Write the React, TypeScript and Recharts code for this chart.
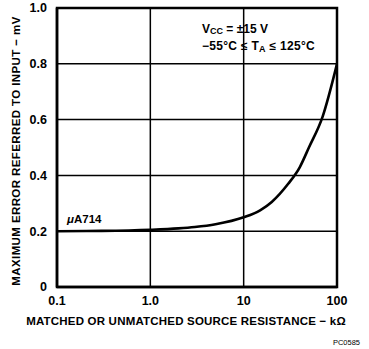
import { LineChart, Line, XAxis, YAxis, CartesianGrid } from 'recharts';

const resistance = [0.1, 0.3, 1, 2, 3, 5, 10, 15, 20, 30, 40, 50, 70, 100];
const maxError = [0.2, 0.201, 0.205, 0.21, 0.215, 0.225, 0.25, 0.275, 0.305, 0.37, 0.43, 0.5, 0.61, 0.8];
const xTicks = [0.1, 1, 10, 100];
const yTicks = [0, 0.2, 0.4, 0.6, 0.8, 1.0];

const data = resistance.map((r, i) => ({ r, v: maxError[i] }));

const font = 'Arial, "Liberation Sans", Helvetica, sans-serif';

const fmtX = (v: number) => (v === 1 ? '1.0' : String(v));
const fmtY = (v: number) => (v === 0 ? '0' : v.toFixed(1));

const App = () => {
    return (
        <div style={{ position: 'absolute', left: 0, top: 0, width: 369, height: 349, background: '#fff', fontFamily: font }}>
            <LineChart width={369} height={349} data={data} margin={{ top: 8, right: 32, bottom: 32, left: 0 }}>
                <CartesianGrid stroke="#000" strokeWidth={1.5} horizontalValues={yTicks} verticalValues={xTicks} />
                <XAxis
                    dataKey="r"
                    type="number"
                    scale="log"
                    domain={[0.1, 100]}
                    ticks={xTicks}
                    tickFormatter={fmtX}
                    axisLine={{ stroke: '#000', strokeWidth: 2.5 }}
                    tickLine={false}
                    tick={{ fill: '#000', fontSize: 12.5, fontWeight: 'bold', fontFamily: font }}
                    tickMargin={3}
                    height={30}
                    allowDataOverflow
                />
                <YAxis
                    type="number"
                    domain={[0, 1]}
                    ticks={yTicks}
                    tickFormatter={fmtY}
                    axisLine={{ stroke: '#000', strokeWidth: 2.5 }}
                    tickLine={false}
                    tick={{ fill: '#000', fontSize: 12.5, fontWeight: 'bold', fontFamily: font }}
                    tickMargin={4}
                    width={57}
                    orientation="left"
                />
                <Line dataKey="v" type="monotone" stroke="#000" strokeWidth={2.6} dot={false} isAnimationActive={false} />
            </LineChart>
            <svg width={369} height={349} style={{ position: 'absolute', left: 0, top: 0, pointerEvents: 'none' }}>
                <rect x={57} y={8} width={280} height={279} fill="none" stroke="#000" strokeWidth={2.5} />
                <text
                    transform="translate(20,151) rotate(-90)"
                    textAnchor="middle"
                    fontSize={11.5}
                    letterSpacing={0.4}
                    fontWeight="bold"
                    fontFamily={font}
                    fill="#000"
                >
                    MAXIMUM ERROR REFERRED TO INPUT − mV
                </text>
                <text x={186} y={325} textAnchor="middle" fontSize={11.5} letterSpacing={0.2} fontWeight="bold" fontFamily={font} fill="#000">
                    MATCHED OR UNMATCHED SOURCE RESISTANCE − kΩ
                </text>
                <text x={360} y={345} textAnchor="end" fontSize={7.5} fontFamily={font} fill="#000">
                    PC0585
                </text>
                <text x={67} y={223} fontSize={11.5} fontWeight="bold" fontFamily={font} fill="#000">
                    <tspan fontStyle="italic">μ</tspan>A714
                </text>
                <text x={202} y={33} fontSize={12} fontWeight="bold" fontFamily={font} fill="#000">
                    V<tspan fontSize={9} dy={1}>CC</tspan>
                    <tspan dy={-1}> =  ±15 V</tspan>
                </text>
                <text x={202} y={50} fontSize={12} letterSpacing={0.3} fontWeight="bold" fontFamily={font} fill="#000">
                    −55°C ≤ T<tspan fontSize={9} dy={2}>A</tspan>
                    <tspan dy={-2}> ≤ 125°C</tspan>
                </text>
            </svg>
        </div>
    );
};

export default App;
